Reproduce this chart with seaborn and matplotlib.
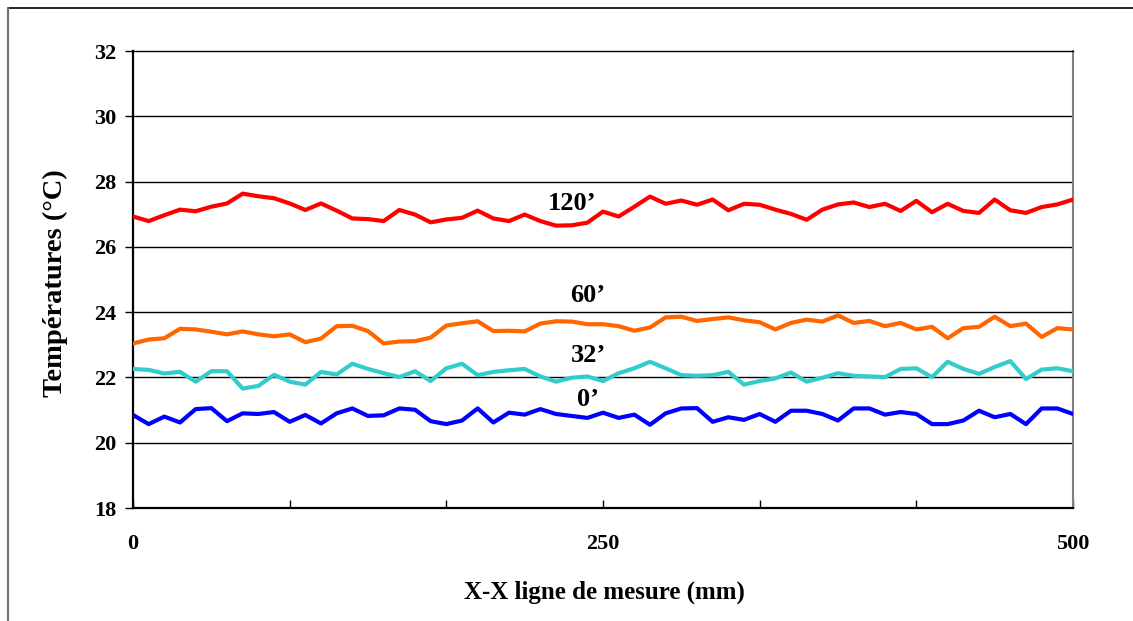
import numpy as np
import pandas as pd
import matplotlib
matplotlib.use("Agg")
import matplotlib.pyplot as plt
import seaborn as sns
from matplotlib.lines import Line2D

# ---- data ----
n_points = 61
x_mm = np.arange(n_points) * 500 / (n_points - 1)

t120 = [26.93, 26.79, 26.97, 27.14, 27.09, 27.23, 27.33, 27.63, 27.55, 27.49,
        27.33, 27.13, 27.33, 27.11, 26.87, 26.85, 26.79, 27.13, 26.99, 26.75,
        26.84, 26.89, 27.11, 26.87, 26.79, 26.99, 26.79, 26.65, 26.66, 26.74,
        27.08, 26.93, 27.23, 27.54, 27.32, 27.42, 27.29, 27.45, 27.12, 27.32,
        27.29, 27.14, 27.01, 26.83, 27.14, 27.30, 27.36, 27.22, 27.32, 27.10,
        27.41, 27.06, 27.32, 27.10, 27.04, 27.45, 27.12, 27.04, 27.22, 27.30,
        27.45]
t60 = [23.04, 23.16, 23.20, 23.49, 23.47, 23.40, 23.32, 23.41, 23.32, 23.26,
       23.32, 23.08, 23.19, 23.57, 23.58, 23.42, 23.04, 23.10, 23.11, 23.22,
       23.59, 23.66, 23.72, 23.42, 23.43, 23.41, 23.65, 23.72, 23.71, 23.63,
       23.63, 23.57, 23.43, 23.53, 23.84, 23.86, 23.73, 23.79, 23.84, 23.75,
       23.69, 23.47, 23.67, 23.77, 23.71, 23.90, 23.67, 23.73, 23.57, 23.67,
       23.47, 23.55, 23.20, 23.51, 23.55, 23.86, 23.57, 23.65, 23.24, 23.51,
       23.47]
t32 = [22.26, 22.23, 22.12, 22.17, 21.87, 22.19, 22.19, 21.66, 21.74, 22.08,
       21.87, 21.78, 22.17, 22.09, 22.42, 22.26, 22.13, 22.01, 22.19, 21.89,
       22.28, 22.42, 22.07, 22.17, 22.22, 22.26, 22.03, 21.87, 21.99, 22.03,
       21.89, 22.13, 22.28, 22.48, 22.28, 22.07, 22.05, 22.07, 22.17, 21.78,
       21.89, 21.97, 22.15, 21.87, 21.99, 22.13, 22.05, 22.03, 22.01, 22.26,
       22.28, 22.01, 22.48, 22.26, 22.11, 22.32, 22.50, 21.95, 22.24, 22.28,
       22.19]
t0 = [20.85, 20.57, 20.80, 20.62, 21.03, 21.06, 20.66, 20.90, 20.88, 20.94,
      20.64, 20.85, 20.59, 20.90, 21.05, 20.82, 20.84, 21.05, 21.01, 20.66,
      20.57, 20.68, 21.05, 20.62, 20.92, 20.86, 21.03, 20.88, 20.82, 20.76,
      20.92, 20.76, 20.86, 20.55, 20.90, 21.05, 21.06, 20.64, 20.78, 20.70,
      20.88, 20.64, 20.98, 20.98, 20.88, 20.68, 21.05, 21.05, 20.86, 20.94,
      20.88, 20.57, 20.57, 20.68, 20.98, 20.78, 20.88, 20.57, 21.05, 21.05,
      20.88]

series_names = ["120\u2019", "60\u2019", "32\u2019", "0\u2019"]
series_values = [t120, t60, t32, t0]
series_colors = ["#FF0000", "#FF6600", "#33CCCC", "#0000FF"]
label_pos = [(233.5, 27.34), (242, 24.50), (242.5, 22.66), (242, 21.31)]

y_ticks = [18, 20, 22, 24, 26, 28, 30, 32]
x_ticks = [0, 500 / 6, 500 / 3, 250, 2000 / 6, 2500 / 6, 500]
x_tick_labels = ["0", "", "", "250", "", "", "500"]

df = pd.concat([pd.DataFrame({"x": x_mm, "T": v, "serie": name})
                for name, v in zip(series_names, series_values)],
               ignore_index=True)

# ---- plot ----
sns.set_style("white")
plt.rcParams["font.family"] = ["Liberation Serif", "DejaVu Serif"]
plt.rcParams["font.weight"] = "bold"
plt.rcParams["text.color"] = "black"
plt.rcParams["xtick.color"] = "black"
plt.rcParams["ytick.color"] = "black"

fig = plt.figure(figsize=(11.33, 6.21), dpi=100)
ax = fig.add_axes([133 / 1133, 1 - 508 / 621, 940 / 1133, 457 / 621])

for yv in y_ticks[1:-1]:
    ax.axhline(yv, color="black", lw=1.0, zorder=1)

sns.lineplot(data=df, x="x", y="T", hue="serie", hue_order=series_names,
             palette=dict(zip(series_names, series_colors)), lw=3.0,
             legend=False, ax=ax, zorder=3)

for name, (lx, ly) in zip(series_names, label_pos):
    ax.text(lx, ly, name, ha="center", va="center", fontsize=19,
            fontweight="bold", color="black")

ax.set_xlim(0, 500)
ax.set_ylim(18, 32)
ax.set_yticks(y_ticks)
ax.set_yticklabels([str(v) for v in y_ticks])
ax.set_xticks(x_ticks)
ax.set_xticklabels(x_tick_labels)
ax.tick_params(axis="y", direction="out", length=6, width=1, pad=6,
               labelsize=16, left=True, labelcolor="black")
ax.tick_params(axis="x", direction="in", length=6, width=1, pad=19,
               labelsize=16, bottom=True, labelcolor="black")
for lbl in ax.get_xticklabels() + ax.get_yticklabels():
    lbl.set_fontweight("bold")

for side in ["left", "bottom"]:
    ax.spines[side].set_color("black")
    ax.spines[side].set_linewidth(1.6)
ax.spines["top"].set_color("black")
ax.spines["top"].set_linewidth(1.0)
ax.spines["right"].set_color("#808080")
ax.spines["right"].set_linewidth(1.5)

ax.set_xlabel("")
ax.set_ylabel("")
fig.text(604 / 1133, 1 - 592 / 621, "X-X ligne de mesure (mm)", ha="center",
         va="center", fontsize=18, fontweight="bold", color="black")
fig.text(55 / 1133, 1 - 283 / 621, "Températures (°C)", ha="center",
         va="center", fontsize=20.5, fontweight="bold", rotation=90,
         color="black")

# chart area border (top and left)
fig.add_artist(Line2D([8 / 1133, 1.0], [1 - 8 / 621, 1 - 8 / 621],
                      color="black", lw=1.2, transform=fig.transFigure))
fig.add_artist(Line2D([8 / 1133, 8 / 1133], [0.0, 1 - 8 / 621],
                      color="#707070", lw=1.5, transform=fig.transFigure))

fig.savefig("out.png", dpi=100)
